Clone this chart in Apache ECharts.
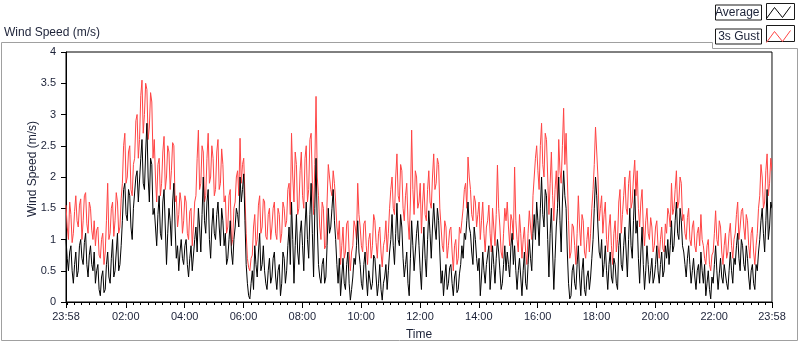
<!DOCTYPE html>
<html lang="en">
  <head>
    <meta charset="UTF-8" />
    <title>Wind Speed</title>
    <style>
      html, body { margin: 0; padding: 0; background: #fff; }
      #main { width: 800px; height: 342px; }
    </style>
  </head>
  <body>
    <div id="main"></div>
    <script src="https://cdn.jsdelivr.net/npm/echarts@6/dist/echarts.min.js"></script>
    <script>
      // samples every 2.5 minutes, starting at 23:58 (one row = one hour)
      var stepMin = 2.5;
      var gust = [
        1.55,1.2, 1.0,1.6, 1.4,0.95, 1.1,1.45, 1.7,1.3, 1.2,1.55, 1.65,1.0, 1.3,1.7, 1.75,1.25, 1.1,1.6, 1.5,1.15, 1.0,1.3,
        0.9,1.15, 1.2,0.75, 0.7,1.0, 1.1,0.6, 0.8,1.3, 1.9,1.0, 1.1,1.5, 1.6,1.05, 1.3,1.75, 1.6,1.1, 1.2,1.65, 1.9,2.5,
        2.7,1.9, 2.0,2.4, 2.5,1.8, 1.7,2.2, 2.3,2.9, 3.0,2.3, 2.6,3.3, 3.55,2.7, 3.0,3.5, 3.4,2.6, 2.8,3.35, 3.2,2.3,
        2.6,2.0, 1.6,2.2, 2.3,1.7, 1.9,2.4, 2.65,1.8, 2.0,2.5, 2.4,1.8, 2.1,2.55, 2.5,1.6, 1.7,1.2, 1.4,1.75, 1.6,1.1,
        1.3,1.7, 1.6,1.1, 1.0,1.45, 1.5,0.9, 1.2,1.6, 1.7,2.3, 2.75,1.8, 1.9,2.5, 2.4,1.6, 1.7,2.3, 2.7,1.9, 2.0,2.5,
        2.3,1.7, 1.8,2.4, 2.6,1.8, 1.9,2.45, 2.2,1.6, 1.7,1.1, 1.2,1.7, 1.8,0.9, 1.0,1.5, 1.6,2.0, 2.1,1.7, 2.62,1.9,
        2.2,2.3, 1.7,1.1, 0.7,0.55, 0.5,0.7, 0.75,1.2, 1.4,0.9, 1.0,1.55, 1.7,1.1, 1.2,1.65, 1.6,1.05, 1.0,1.4, 1.5,1.0,
        1.2,1.5, 1.6,1.1, 1.0,1.5, 1.4,0.95, 1.1,1.6, 1.5,1.2, 1.3,1.8, 1.9,1.4, 2.7,2.0, 1.6,2.4, 2.2,1.4, 1.5,2.1,
        2.4,1.7, 1.5,2.3, 2.5,1.6, 1.8,2.6, 2.7,1.9, 1.4,2.2, 3.29,2.0, 1.7,1.2, 1.0,1.6, 1.5,0.85, 0.9,1.6, 2.2,2.0,
        1.8,1.7, 2.1,1.9, 1.6,1.2, 1.0,1.3, 0.6,0.9, 1.2,0.7, 0.8,1.25, 1.3,0.8, 0.5,0.8, 0.9,1.3, 1.2,1.0, 1.9,1.4,
        1.2,0.9, 0.8,1.25, 1.3,0.9, 0.6,1.0, 1.1,0.7, 0.9,1.4, 1.3,0.95, 0.7,1.1, 1.2,0.8, 0.56,0.9, 1.0,1.3, 0.8,1.1,
        1.5,1.8, 2.0,1.5, 1.4,2.0, 2.37,1.7, 1.6,2.2, 2.1,1.5, 1.3,1.7, 1.9,1.3, 1.0,1.6, 2.75,1.8, 1.4,2.1, 2.0,1.5,
        1.6,1.9, 1.1,1.6, 1.9,1.4, 1.3,1.8, 2.1,1.6, 1.5,2.0, 2.37,1.8, 1.9,2.3, 2.2,1.5, 1.2,0.9, 0.8,1.3, 1.2,0.7,
        0.9,1.15, 1.2,0.8, 0.5,0.9, 1.0,0.6, 0.7,1.2, 1.1,1.3, 1.5,1.8, 1.9,1.5, 2.32,2.0, 1.8,1.4, 1.3,1.7, 1.6,1.2,
        1.4,1.6, 1.0,1.3, 1.6,1.1, 0.8,1.2, 1.3,1.55, 1.1,0.8, 1.5,1.2, 0.9,1.4, 2.19,1.5, 1.2,0.8, 0.7,1.1, 1.5,1.3,
        1.6,1.2, 0.9,1.4, 1.3,1.0, 2.16,1.3, 1.0,0.8, 1.4,1.1, 0.7,1.0, 1.2,0.8, 0.6,1.1, 1.46,1.2, 1.0,1.7, 2.0,2.3,
        2.5,2.1, 1.8,2.5, 2.86,2.2, 2.0,2.7, 2.6,2.0, 1.4,1.9, 2.4,1.7, 1.3,1.8, 2.1,1.6, 2.6,2.1, 1.9,2.5, 3.1,2.2,
        2.7,2.0, 1.3,0.7, 0.8,1.25, 1.2,0.9, 0.6,1.1, 1.7,1.2, 0.9,1.4, 1.3,0.8, 0.7,1.0, 1.2,0.8, 1.1,1.5, 1.8,2.2,
        2.8,2.4, 2.0,1.3, 1.5,1.7, 1.1,1.4, 1.6,1.0, 0.8,1.2, 1.4,0.9, 0.6,1.1, 1.3,0.8, 1.0,1.6, 1.8,1.1, 1.4,1.7,
        2.0,1.5, 1.4,1.9, 2.1,1.5, 1.6,2.0, 2.27,1.7, 2.1,1.5, 1.2,1.6, 1.8,1.2, 0.9,1.3, 1.5,1.1, 1.0,1.35, 1.2,0.8,
        0.9,1.2, 1.3,0.9, 0.7,1.0, 1.2,0.85, 0.8,1.25, 1.1,1.5, 1.4,1.2, 1.9,1.4, 1.5,1.8, 2.1,1.5, 1.6,2.0, 1.9,1.3,
        1.4,1.1, 1.0,1.35, 1.5,1.0, 0.9,1.2, 1.3,0.9, 0.8,1.1, 1.2,0.9, 1.4,1.0, 0.9,0.7, 0.6,0.9, 1.0,0.6, 0.5,0.75,
        0.8,1.1, 1.46,1.0, 0.9,1.3, 1.2,0.8, 0.6,0.9, 1.1,0.7, 0.8,1.1, 1.26,0.9, 0.7,1.0, 1.1,1.4, 1.6,1.0, 1.2,1.45,
        1.5,1.2, 1.0,1.4, 1.3,0.9, 0.7,1.1, 1.2,0.8, 0.6,0.9, 1.1,1.5, 1.7,2.2, 2.0,1.5, 1.6,2.1, 2.37,1.7, 1.9,2.3,
        2.1
      ];
      var average = [
        1.0,0.7, 0.5,0.8, 0.9,0.5, 0.3,0.6, 0.8,0.4, 0.5,0.9, 1.0,0.7, 0.6,0.95, 1.1,0.6, 0.4,0.75, 0.9,0.6, 0.5,0.8,
        0.3,0.5, 0.6,0.2, 0.1,0.4, 0.5,0.15, 0.2,0.6, 0.8,0.4, 0.3,0.7, 1.0,0.4, 0.5,0.8, 1.1,0.5, 0.6,0.9, 1.3,1.8,
        1.9,1.4, 1.3,1.8, 1.7,1.2, 1.0,1.5, 1.5,2.0, 2.1,1.6, 1.6,2.3, 2.6,1.9, 1.8,2.4, 2.86,2.0, 1.6,2.3, 2.2,1.4,
        1.5,1.2, 0.9,1.4, 1.7,1.1, 1.0,1.6, 1.8,1.2, 0.6,1.1, 1.5,1.3, 0.9,1.6, 1.9,1.2, 0.7,0.9, 0.5,0.8, 1.0,0.7,
        0.6,0.9, 1.0,0.6, 0.4,0.7, 0.9,0.5, 0.5,1.0, 1.2,0.8, 1.5,1.2, 0.8,1.4, 2.0,1.3, 1.1,1.6, 1.8,1.0, 0.7,1.2,
        1.5,1.1, 1.0,1.4, 1.6,1.2, 0.9,1.5, 1.3,0.9, 1.1,0.6, 0.7,1.0, 1.3,0.8, 0.6,1.0, 1.2,1.5, 1.4,1.2, 2.0,1.6,
        1.8,2.05, 1.3,0.6, 0.3,0.1, 0.05,0.3, 0.5,0.2, 0.9,0.6, 0.4,0.8, 1.1,0.5, 0.6,0.9, 0.5,0.3, 0.2,0.5, 0.7,0.3,
        0.4,0.7, 0.8,0.4, 0.2,0.5, 0.6,0.1, 0.3,0.8, 0.7,0.3, 0.5,0.9, 1.2,0.6, 1.6,1.0, 0.3,0.9, 1.4,0.8, 0.6,1.1,
        1.3,0.9, 0.5,1.2, 1.6,1.0, 0.7,1.4, 1.9,1.1, 0.4,1.5, 2.3,1.2, 0.6,0.4, 0.3,0.6, 0.7,0.3, 0.4,0.9, 1.5,1.1,
        1.2,1.5, 1.8,1.3, 1.0,0.6, 0.3,0.7, 0.1,0.4, 0.7,0.3, 0.2,0.6, 0.8,0.3, 0.03,0.2, 0.4,0.7, 0.6,0.9, 1.3,0.8,
        0.6,0.3, 0.2,0.6, 0.8,0.4, 0.1,0.5, 0.5,0.2, 0.3,0.75, 0.7,0.4, 0.1,0.3, 0.6,0.2, 0.03,0.3, 0.4,0.6, 0.2,0.5,
        0.8,1.0, 1.4,0.9, 0.6,1.1, 1.58,1.0, 0.9,1.4, 1.2,0.7, 0.4,0.6, 0.8,0.3, 0.1,0.7, 1.3,0.9, 0.5,0.8, 1.1,1.3,
        0.9,0.5, 0.2,0.8, 1.2,0.7, 0.4,1.0, 1.46,1.1, 0.7,1.2, 1.58,1.2, 1.0,1.5, 1.3,0.8, 0.3,0.5, 0.1,0.4, 0.6,0.2,
        0.3,0.55, 0.6,0.3, 0.1,0.4, 0.5,0.15, 0.2,0.45, 0.6,0.9, 0.7,1.1, 1.0,1.3, 1.6,1.2, 1.1,0.8, 0.6,1.2, 1.0,0.7,
        0.5,0.7, 0.1,0.4, 0.8,0.5, 0.3,0.6, 0.6,0.9, 0.2,0.5, 0.9,0.6, 0.3,0.7, 1.0,0.8, 0.5,0.2, 0.3,0.6, 0.9,0.5,
        0.8,0.6, 0.4,0.9, 1.1,0.6, 0.9,0.5, 0.2,0.5, 0.7,0.4, 0.1,0.5, 0.8,0.3, 0.2,0.6, 1.0,0.7, 0.5,1.1, 1.4,1.0,
        1.6,1.3, 0.9,1.5, 2.0,1.4, 1.2,1.8, 1.7,1.0, 0.4,1.1, 1.5,0.8, 0.2,0.7, 1.2,1.5, 2.0,1.3, 0.8,1.6, 2.1,1.7,
        1.5,0.8, 0.3,0.05, 0.1,0.5, 0.6,0.3, 0.2,0.6, 0.9,0.4, 0.1,0.5, 0.7,0.2, 0.1,0.4, 0.5,0.2, 0.4,0.7, 1.0,1.5,
        2.0,1.7, 1.2,0.8, 0.7,1.0, 0.4,0.6, 0.9,0.5, 0.2,0.6, 0.8,0.4, 0.3,0.7, 0.6,0.3, 0.2,0.9, 1.1,0.6, 0.5,0.9,
        1.2,0.8, 0.4,1.0, 1.5,0.9, 0.7,1.3, 1.8,1.1, 1.3,0.7, 0.3,0.8, 1.2,0.6, 0.2,0.5, 0.9,0.6, 0.3,0.5, 0.7,0.3,
        0.4,0.6, 0.9,0.5, 0.3,0.6, 0.8,0.4, 0.5,0.9, 0.7,1.0, 0.6,0.9, 1.3,0.8, 0.9,1.3, 1.6,1.1, 1.0,1.5, 1.3,0.9,
        0.8,0.6, 0.4,0.7, 0.9,0.6, 0.3,0.5, 0.7,0.4, 0.2,0.5, 0.6,0.3, 0.8,0.5, 0.3,0.6, 0.1,0.3, 0.5,0.2, 0.05,0.4,
        0.3,0.6, 0.9,0.5, 0.2,0.45, 0.7,0.4, 0.3,0.6, 0.6,0.3, 0.2,0.5, 0.8,0.5, 0.3,0.7, 0.6,0.9, 1.1,0.7, 0.5,1.0,
        0.9,0.6, 0.5,0.9, 0.7,0.4, 0.2,0.5, 0.6,0.3, 0.2,0.6, 0.5,0.8, 1.0,1.3, 1.5,1.1, 0.8,1.3, 1.8,1.0, 1.2,1.6,
        1.5
      ];
      // x axis in minutes after 23:58
      var tickMinutes = [0, 122, 242, 362, 482, 602, 722, 842, 962, 1082, 1202, 1322, 1440];
      var tickLabels = ["23:58", "02:00", "04:00", "06:00", "08:00", "10:00", "12:00",
        "14:00", "16:00", "18:00", "20:00", "22:00", "23:58"];

      var minorTicks = [];
      for (var m = 2; m <= 1440; m += 15) minorTicks.push(m);

      function pairs(arr) {
        return arr.map(function (v, i) { return [i * stepMin, v]; });
      }

      var textColor = "#1c2238";
      var font = "Liberation Sans";
      var zig = "path://M0,12 L8,1 L16,11 L24,0";

      var myChart = echarts.init(document.getElementById("main"));

      var option = {
        animation: false,
        backgroundColor: "#fff",
        title: {
          text: "Wind Speed (m/s)",
          left: 4,
          top: 27,
          padding: 0,
          textStyle: { fontFamily: font, fontSize: 12, fontWeight: "normal", color: textColor }
        },
        legend: {
          orient: "vertical",
          right: 7,
          top: 4,
          padding: 0,
          itemGap: 7,
          itemWidth: 24,
          itemHeight: 12,
          align: "right",
          selectedMode: false,
          textStyle: {
            fontFamily: font, fontSize: 12, color: textColor, width: 42, align: "left",
            borderColor: "#1a1a1a", borderWidth: 1, padding: [1, 2, 0, 2], lineHeight: 14
          },
          data: [
            { name: "Average", icon: zig, itemStyle: { color: "none", borderColor: "#000", borderWidth: 1 } },
            { name: "3s Gust", icon: zig, itemStyle: { color: "none", borderColor: "#ff4444", borderWidth: 1 } }
          ]
        },
        grid: {
          left: 66, right: 28, top: 52, bottom: 40,
          outerBoundsMode: "none",
          show: true, borderColor: "#000", borderWidth: 1, backgroundColor: "#fff"
        },
        xAxis: [
          {
            type: "value",
            position: "bottom",
            min: 0, max: 1440,
            name: "Time",
            nameLocation: "middle",
            nameGap: 27,
            nameMoveOverlap: false,
            nameTextStyle: { fontFamily: font, fontSize: 12, color: textColor },
            splitLine: { show: false },
            axisLine: { lineStyle: { color: "#000" } },
            axisTick: { customValues: tickMinutes, length: 6, lineStyle: { color: "#000" } },
            axisLabel: {
              customValues: tickMinutes,
              margin: 9,
              fontFamily: font, fontSize: 11, color: textColor,
              formatter: function (v) { return tickLabels[tickMinutes.indexOf(v)]; }
            }
          },
          {
            type: "value",
            position: "bottom",
            min: 0, max: 1440,
            splitLine: { show: false },
            axisLine: { show: false },
            axisLabel: { show: false },
            axisTick: { customValues: minorTicks, length: 3, lineStyle: { color: "#000" } }
          }
        ],
        yAxis: {
          type: "value",
          min: 0, max: 4, interval: 0.5,
          name: "Wind Speed (m/s)",
          nameLocation: "middle",
          nameGap: 27,
          nameMoveOverlap: false,
          nameTextStyle: { fontFamily: font, fontSize: 12, color: textColor, padding: [0, 0, 0, 16] },
          splitLine: { show: false },
          axisLine: { show: true, lineStyle: { color: "#000" } },
          axisTick: { show: true, length: 5, lineStyle: { color: "#000" } },
          axisLabel: { margin: 10, fontFamily: font, fontSize: 11, color: textColor }
        },
        graphic: [
          {
            type: "polyline",
            silent: true,
            shape: { points: [[712.5, 42.5], [1.5, 42.5], [1.5, 340.5], [797.5, 340.5], [797.5, 48.5], [712.5, 48.5], [712.5, 42.5]] },
            style: { fill: null, stroke: "#a0a0a0", lineWidth: 1 }
          },
          {
            type: "line", silent: true, z: 10,
            shape: { x1: 772.5, y1: 52, x2: 772.5, y2: 302 },
            style: { stroke: "#8a8a8a", lineWidth: 1 }
          },
          {
            type: "rect", silent: true,
            shape: { x: 766.5, y: 3.5, width: 28, height: 16 },
            style: { fill: null, stroke: "#1a1a1a", lineWidth: 1 }
          },
          {
            type: "rect", silent: true,
            shape: { x: 766.5, y: 25.5, width: 28, height: 16 },
            style: { fill: null, stroke: "#1a1a1a", lineWidth: 1 }
          }
        ],
        series: [
          {
            name: "3s Gust",
            type: "line",
            symbol: "none",
            lineStyle: { color: "#ff4444", width: 1 },
            itemStyle: { color: "#ff4444" },
            data: pairs(gust)
          },
          {
            name: "Average",
            type: "line",
            symbol: "none",
            lineStyle: { color: "#000", width: 1 },
            itemStyle: { color: "#000" },
            data: pairs(average)
          }
        ]
      };

      myChart.setOption(option);
    </script>
  </body>
</html>
